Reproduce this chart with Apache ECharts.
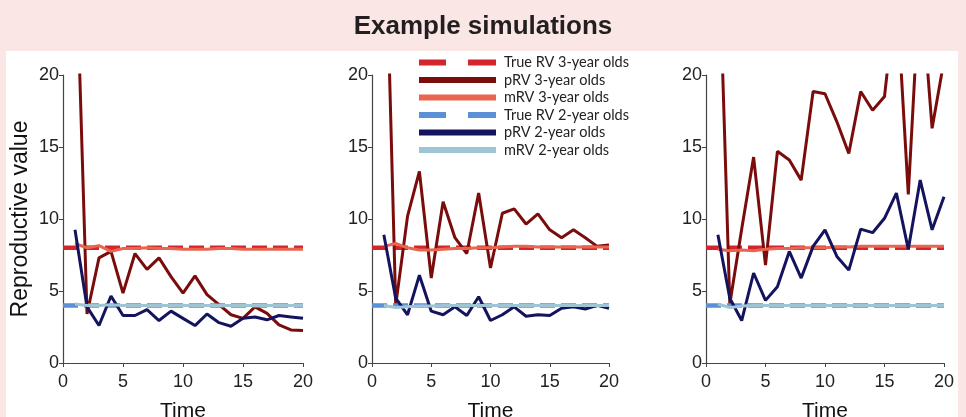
<!DOCTYPE html>
<html>
<head>
<meta charset="utf-8">
<script src="https://cdn.jsdelivr.net/npm/echarts@6/dist/echarts.min.js"></script>
<style>
  html, body { margin: 0; padding: 0; background: #fbe6e6; }
  #chart { width: 966px; height: 417px; }
</style>
</head>
<body>
<div id="chart"></div>
<script>
// time steps of the simulations
const TIME = [1, 2, 3, 4, 5, 6, 7, 8, 9, 10, 11, 12, 13, 14, 15, 16, 17, 18, 19, 20];
// true reproductive values are flat over the whole range
const TRUE_TIME = [0, 20];
const TRUE_RV3 = [8, 8];
const TRUE_RV2 = [4, 4];

// panel 1
const P1_PRV3 = [31, 3.4, 7.3, 7.75, 4.85, 7.6, 6.5, 7.3, 6.0, 4.85, 6.05, 4.75, 4.05, 3.35, 3.1, 3.9, 3.45, 2.65, 2.3, 2.25];
const P1_MRV3 = [8.3, 8.0, 8.15, 7.75, 7.95, 7.95, 8.0, 7.95, 7.95, 7.9, 7.9, 7.9, 7.95, 7.95, 7.9, 7.9, 7.9, 7.9, 7.9, 7.9];
const P1_PRV2 = [9.25, 3.9, 2.6, 4.65, 3.3, 3.3, 3.7, 2.95, 3.6, 3.1, 2.6, 3.4, 2.8, 2.55, 3.1, 3.2, 3.0, 3.3, 3.2, 3.1];
const P1_MRV2 = [4.1, 4.0, 4.0, 4.05, 4.0, 4.0, 4.0, 4.0, 4.0, 4.0, 4.0, 4.0, 4.0, 4.0, 4.0, 4.0, 4.0, 4.0, 4.0, 4.0];

// panel 2
const P2_PRV3 = [35, 4.0, 10.2, 13.3, 5.9, 11.2, 8.7, 7.6, 11.8, 6.6, 10.4, 10.7, 9.65, 10.35, 9.25, 8.7, 9.25, 8.7, 8.1, 8.2];
const P2_MRV3 = [8.1, 8.3, 8.0, 7.85, 7.85, 7.9, 7.95, 7.95, 8.0, 8.0, 8.05, 8.1, 8.1, 8.05, 8.05, 8.05, 8.05, 8.05, 8.05, 8.05];
const P2_PRV2 = [8.9, 4.5, 3.35, 6.1, 3.6, 3.35, 3.9, 3.3, 4.6, 2.95, 3.35, 3.9, 3.25, 3.35, 3.3, 3.8, 3.9, 3.75, 4.0, 3.8];
const P2_MRV2 = [4.0, 3.85, 3.9, 3.95, 3.95, 4.0, 4.0, 4.0, 4.0, 4.0, 4.0, 4.0, 4.0, 4.0, 4.0, 4.0, 4.0, 4.0, 4.0, 4.0];

// panel 3
const P3_PRV3 = [31, 4.1, 9.3, 14.3, 6.8, 14.7, 14.1, 12.7, 18.85, 18.7, 16.75, 14.55, 18.85, 17.55, 18.5, 26, 11.7, 27, 16.3, 21];
const P3_MRV3 = [7.9, 7.8, 7.85, 7.8, 7.9, 7.95, 7.95, 8.0, 8.0, 8.0, 8.05, 8.05, 8.1, 8.1, 8.1, 8.1, 8.1, 8.1, 8.1, 8.1];
const P3_PRV2 = [8.9, 4.5, 2.95, 6.25, 4.35, 5.3, 7.75, 5.9, 8.1, 9.25, 7.4, 6.45, 9.3, 9.05, 10.05, 11.8, 7.9, 12.7, 9.25, 11.55];
const P3_MRV2 = [4.1, 3.85, 3.95, 4.0, 4.0, 4.0, 4.0, 4.0, 4.0, 4.0, 4.0, 4.0, 4.0, 4.0, 4.0, 4.0, 4.0, 4.0, 4.0, 4.0];

const X_TICKS = [0, 5, 10, 15, 20];
const Y_TICKS = [0, 5, 10, 15, 20];

const NAMES = ['True RV 3-year olds', 'pRV 3-year olds', 'mRV 3-year olds',
               'True RV 2-year olds', 'pRV 2-year olds', 'mRV 2-year olds'];
const COLORS = ['#d3252b', '#7a0c0c', '#e8654f', '#5b8fd6', '#14145e', '#9fc4d3'];

const panels = [
    {prv3: P1_PRV3, mrv3: P1_MRV3, prv2: P1_PRV2, mrv2: P1_MRV2},
    {prv3: P2_PRV3, mrv3: P2_MRV3, prv2: P2_PRV2, mrv2: P2_MRV2},
    {prv3: P3_PRV3, mrv3: P3_MRV3, prv2: P3_PRV2, mrv2: P3_MRV2}
];

// fixed plot boxes, no auto-shrinking to fit labels
const grids = [
    {left: 63, top: 75, width: 240, height: 288, outerBoundsMode: 'none', containLabel: false},
    {left: 372, top: 75, width: 237, height: 288, outerBoundsMode: 'none', containLabel: false},
    {left: 706, top: 75, width: 238, height: 288, outerBoundsMode: 'none', containLabel: false}
];

const pairs = (xs, ys) => xs.map((x, i) => [x, ys[i]]);

const FONT = 'Arial';
const axisText = {color: '#222', fontSize: 18, fontFamily: FONT};

const xAxes = grids.map((g, i) => ({
    type: 'value',
    gridIndex: i,
    min: X_TICKS[0],
    max: X_TICKS[X_TICKS.length - 1],
    interval: 5,
    name: 'Time',
    nameLocation: 'middle',
    nameGap: 38,
    nameTextStyle: {color: '#111', fontSize: 21, fontFamily: FONT},
    axisLine: {lineStyle: {color: '#444', width: 1.2}},
    axisTick: {length: 4, lineStyle: {color: '#444'}},
    axisLabel: Object.assign({margin: 10}, axisText),
    splitLine: {show: false}
}));

const yAxes = grids.map((g, i) => ({
    type: 'value',
    gridIndex: i,
    min: Y_TICKS[0],
    max: Y_TICKS[Y_TICKS.length - 1],
    interval: 5,
    name: i === 0 ? 'Reproductive value' : '',
    nameLocation: 'middle',
    nameRotate: 90,
    nameGap: 31,
    nameTextStyle: {color: '#111', fontSize: 23, fontFamily: FONT},
    axisLine: {show: true, lineStyle: {color: '#444', width: 1.2}},
    axisTick: {show: true, length: 4, lineStyle: {color: '#444'}},
    axisLabel: Object.assign({margin: 4}, axisText),
    splitLine: {show: false}
}));

const series = [];
panels.forEach((p, i) => {
    const base = {type: 'line', xAxisIndex: i, yAxisIndex: i, showSymbol: false, symbol: 'none',
                  clip: true, animation: false, silent: true};
    series.push(Object.assign({}, base, {name: NAMES[0], data: pairs(TRUE_TIME, TRUE_RV3),
        lineStyle: {color: COLORS[0], width: 4.5, type: [15, 6]}}));
    series.push(Object.assign({}, base, {name: NAMES[1], data: pairs(TIME, p.prv3),
        lineStyle: {color: COLORS[1], width: 3}}));
    series.push(Object.assign({}, base, {name: NAMES[2], data: pairs(TIME, p.mrv3),
        lineStyle: {color: COLORS[2], width: 3}}));
    series.push(Object.assign({}, base, {name: NAMES[3], data: pairs(TRUE_TIME, TRUE_RV2),
        lineStyle: {color: COLORS[3], width: 4.5, type: [15, 6]}}));
    series.push(Object.assign({}, base, {name: NAMES[4], data: pairs(TIME, p.prv2),
        lineStyle: {color: COLORS[4], width: 3}}));
    series.push(Object.assign({}, base, {name: NAMES[5], data: pairs(TIME, p.mrv2),
        lineStyle: {color: COLORS[5], width: 3}}));
});

// dashed legend swatch: two long bars with a gap, solid swatch: one bar
const DASH_ICON = 'path://M0,0H27V6H0Z M49,0H77V6H49Z';
const legendData = NAMES.map((n, i) => ({
    name: n,
    icon: i === 0 || i === 3 ? DASH_ICON : 'rect',
    itemStyle: {color: COLORS[i]}
}));

const chart = echarts.init(document.getElementById('chart'));
chart.setOption({
    animation: false,
    color: COLORS,
    title: {
        text: 'Example simulations',
        left: 'center',
        top: 9,
        textStyle: {color: '#231f20', fontSize: 26, fontWeight: 'bold', fontFamily: FONT}
    },
    graphic: [{
        type: 'rect', left: 6, top: 51, z: -10,
        shape: {width: 952, height: 366},
        style: {fill: '#ffffff'}
    }],
    legend: {
        data: legendData,
        orient: 'vertical',
        left: 419,
        top: 55,
        itemWidth: 77,
        itemHeight: 6,
        itemGap: 2.5,
        padding: 0,
        selectedMode: false,
        textStyle: {color: '#222', fontSize: 14.5, fontFamily: 'Lato', padding: [0, 0, 0, 3]}
    },
    grid: grids,
    xAxis: xAxes,
    yAxis: yAxes,
    series: series
});
</script>
</body>
</html>
